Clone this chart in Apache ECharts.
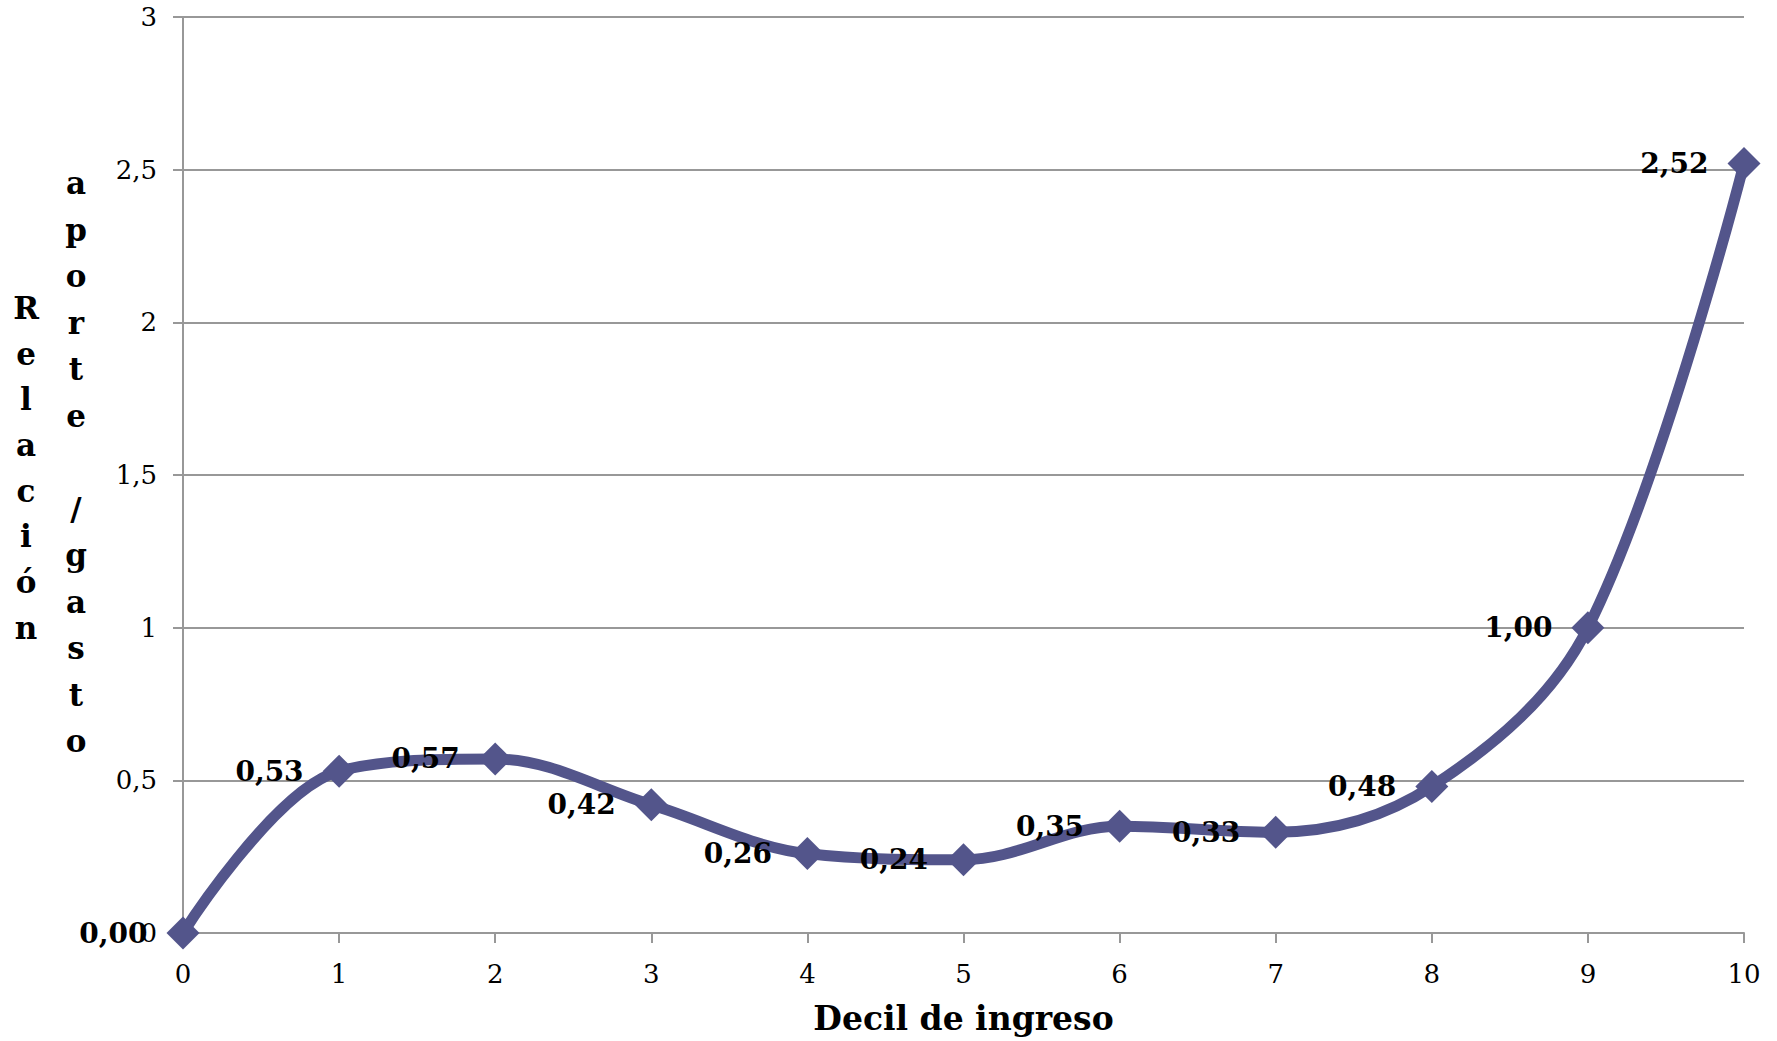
<!DOCTYPE html>
<html>
<head>
<meta charset="utf-8">
<title>Relación aporte / gasto por decil de ingreso</title>
<script src="https://cdn.jsdelivr.net/npm/echarts@6/dist/echarts.min.js"></script>
<style>
  html, body { margin: 0; padding: 0; background: #ffffff; }
  #chart { width: 1777px; height: 1041px; }
</style>
</head>
<body>
<div id="chart"></div>
<script>
// Income deciles (x) and contribution / expenditure ratio (y)
const deciles = [0, 1, 2, 3, 4, 5, 6, 7, 8, 9, 10];
const ratios = [0.00, 0.53, 0.57, 0.42, 0.26, 0.24, 0.35, 0.33, 0.48, 1.00, 2.52];

// Axis texts
const xTitle = 'Decil de ingreso';
const yTitleCol1 = ['R', 'e', 'l', 'a', 'c', 'i', 'ó', 'n'];
const yTitleCol2 = ['a', 'p', 'o', 'r', 't', 'e', '', '/', 'g', 'a', 's', 't', 'o'];

const serif = '"DejaVu Serif", Georgia, serif';
const lineColor = '#53558b';
const gridColor = '#989898';

const chart = echarts.init(document.getElementById('chart'), null, { renderer: 'svg' });

const fmtComma = (v, digits) => (digits == null ? String(v) : v.toFixed(digits)).replace('.', ',');

chart.setOption({
  animation: false,
  backgroundColor: '#ffffff',
  grid: {
    left: 183, right: 33, top: 17, bottom: 108,
    containLabel: false,
    outerBoundsMode: 'none'
  },
  xAxis: {
    type: 'value',
    min: 0, max: 10, interval: 1,
    name: xTitle,
    nameLocation: 'middle',
    nameGap: 69,
    nameTextStyle: { fontFamily: serif, fontWeight: 'bold', fontSize: 33, color: '#000' },
    axisLine: { show: true, onZero: false, lineStyle: { color: gridColor, width: 2 } },
    axisTick: { show: true, length: 10, lineStyle: { color: gridColor, width: 2 } },
    axisLabel: { margin: 28, fontFamily: serif, fontSize: 26, color: '#000' },
    splitLine: { show: false }
  },
  yAxis: {
    type: 'value',
    min: 0, max: 3, interval: 0.5,
    axisLine: { show: true, lineStyle: { color: gridColor, width: 2 } },
    axisTick: { show: true, length: 10, lineStyle: { color: gridColor, width: 2 } },
    axisLabel: {
      margin: 26, fontFamily: serif, fontSize: 26, color: '#000',
      formatter: v => fmtComma(v)
    },
    splitLine: { show: true, lineStyle: { color: gridColor, width: 2 } }
  },
  graphic: [
    {
      type: 'text', x: 26, y: 285,
      style: {
        text: yTitleCol1.join('\n'),
        fontFamily: serif, fontWeight: 'bold', fontSize: 31,
        lineHeight: 45.7, align: 'center', verticalAlign: 'top', fill: '#000'
      }
    },
    {
      type: 'text', x: 76, y: 160,
      style: {
        text: yTitleCol2.join('\n'),
        fontFamily: serif, fontWeight: 'bold', fontSize: 31,
        lineHeight: 46.5, align: 'center', verticalAlign: 'top', fill: '#000'
      }
    }
  ],
  series: [{
    type: 'line',
    data: deciles.map((d, i) => [d, ratios[i]]),
    smooth: 0.35,
    symbol: 'diamond',
    symbolSize: 33,
    clip: false,
    lineStyle: { color: lineColor, width: 11 },
    itemStyle: { color: lineColor },
    label: {
      show: true,
      position: 'left',
      distance: 19,
      fontFamily: serif, fontWeight: 'bold', fontSize: 28, color: '#000',
      formatter: p => fmtComma(p.value[1], 2)
    }
  }]
});
</script>
</body>
</html>
